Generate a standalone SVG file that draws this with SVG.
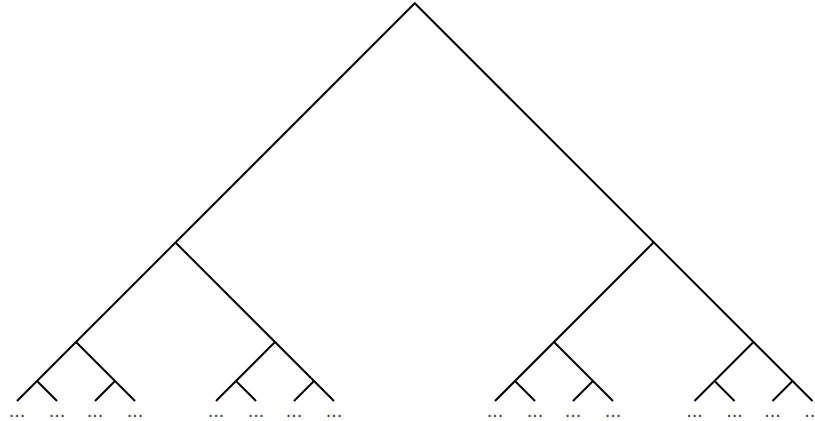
<svg xmlns="http://www.w3.org/2000/svg" width="815" height="421" viewBox="0 0 815 421">
<style>
.e{fill:none;stroke:#000;stroke-width:2;stroke-linejoin:miter}
.d{font-family:"Liberation Sans",Arial,sans-serif;font-size:20px;fill:#444;text-anchor:middle}
</style>
<rect width="815" height="421" fill="#fff"/>
<g id="connectors">
<path class="e" d="M17,401 L414.75,3.25 L812.5,401"/>
<path class="e" d="M175.5,242.5 L334,401"/>
<path class="e" d="M76,342 L135,401"/>
<path class="e" d="M37,381 L57,401"/>
<path class="e" d="M115,381 L95,401"/>
<path class="e" d="M275,342 L216,401"/>
<path class="e" d="M236,381 L256,401"/>
<path class="e" d="M314,381 L294,401"/>
<path class="e" d="M653.75,242.25 L495,401"/>
<path class="e" d="M554,342 L613,401"/>
<path class="e" d="M515,381 L535,401"/>
<path class="e" d="M593,381 L573,401"/>
<path class="e" d="M753.5,342 L694.5,401"/>
<path class="e" d="M714.5,381 L734.5,401"/>
<path class="e" d="M792.5,381 L772.5,401"/>
</g>
<g id="leaf1"><text class="d" x="17" y="416.5">...</text></g>
<g id="leaf2"><text class="d" x="57" y="416.5">...</text></g>
<g id="leaf3"><text class="d" x="95" y="416.5">...</text></g>
<g id="leaf4"><text class="d" x="135" y="416.5">...</text></g>
<g id="leaf5"><text class="d" x="216" y="416.5">...</text></g>
<g id="leaf6"><text class="d" x="256" y="416.5">...</text></g>
<g id="leaf7"><text class="d" x="294" y="416.5">...</text></g>
<g id="leaf8"><text class="d" x="334" y="416.5">...</text></g>
<g id="leaf9"><text class="d" x="495" y="416.5">...</text></g>
<g id="leaf10"><text class="d" x="535" y="416.5">...</text></g>
<g id="leaf11"><text class="d" x="573" y="416.5">...</text></g>
<g id="leaf12"><text class="d" x="613" y="416.5">...</text></g>
<g id="leaf13"><text class="d" x="694.5" y="416.5">...</text></g>
<g id="leaf14"><text class="d" x="734.5" y="416.5">...</text></g>
<g id="leaf15"><text class="d" x="772.5" y="416.5">...</text></g>
<g id="leaf16"><text class="d" x="812.5" y="416.5">...</text></g>
</svg>
